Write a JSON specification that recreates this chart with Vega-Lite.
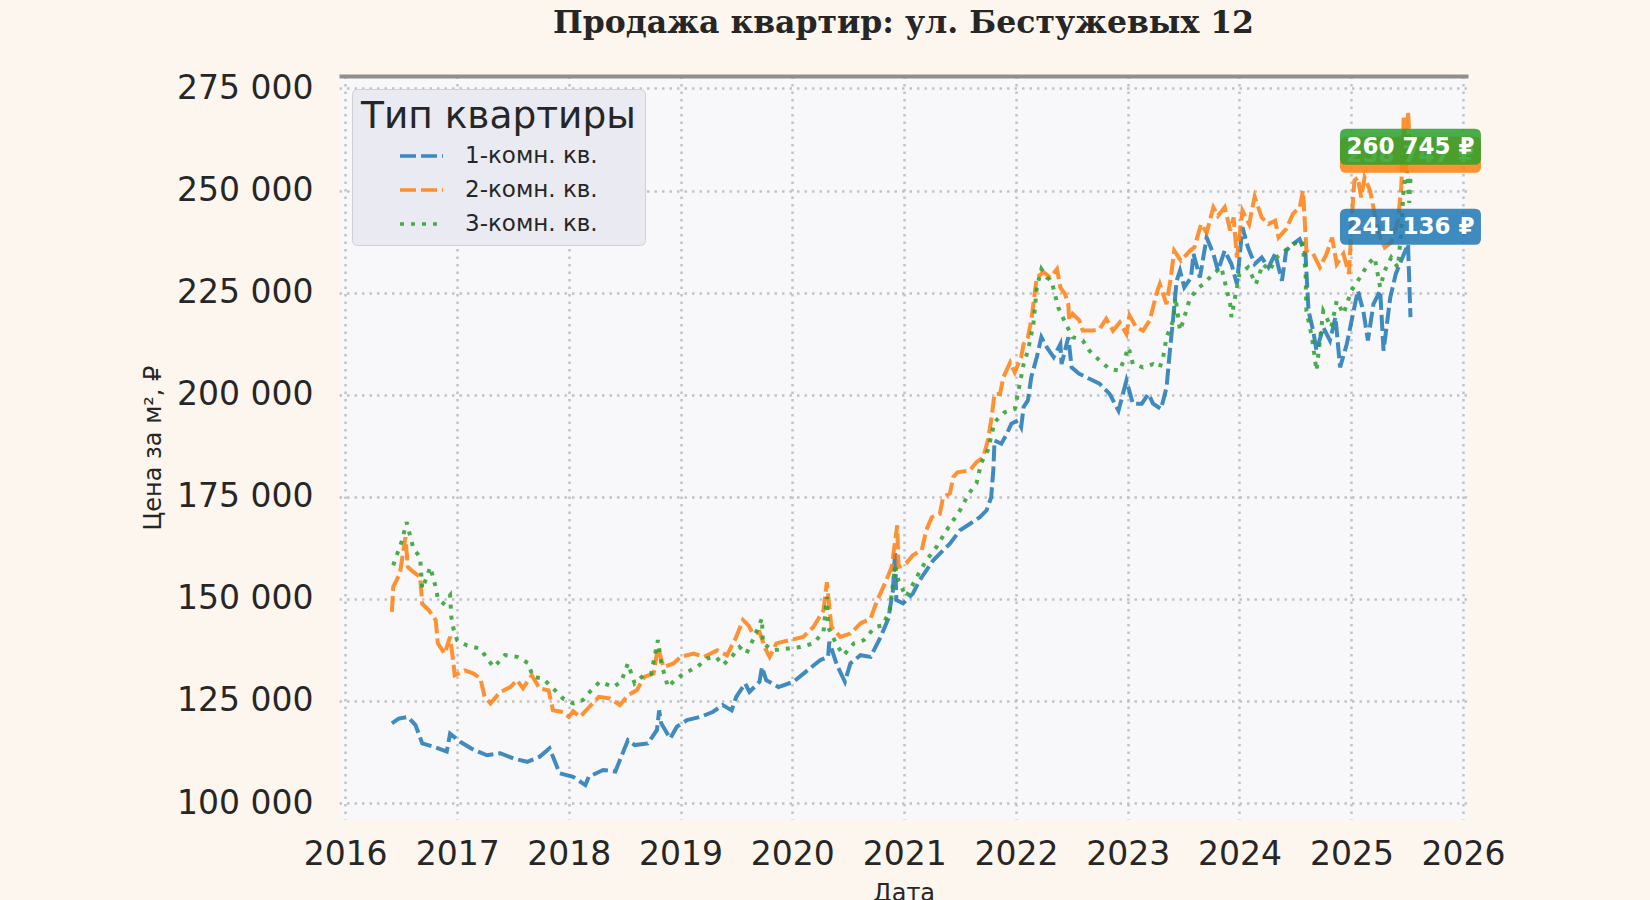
{
  "$schema": "https://vega.github.io/schema/vega-lite/v6.json",
  "width": 1129,
  "height": 743,
  "autosize": {"type": "none"},
  "padding": {"left": 339, "top": 76, "right": 182, "bottom": 81},
  "background": "#fdf6ee",
  "title": {
    "text": "Продажа квартир: ул. Бестужевых 12",
    "font": "DejaVu Serif",
    "fontSize": 31.5,
    "fontWeight": "bold",
    "color": "#262626",
    "anchor": "middle",
    "baseline": "alphabetic",
    "offset": 8
  },
  "datasets": {
    "prices": [
      {"type": "1-комн. кв.", "date": "2016-06-02", "price": 119500},
      {"type": "1-комн. кв.", "date": "2016-06-24", "price": 120700},
      {"type": "1-комн. кв.", "date": "2016-07-24", "price": 121100},
      {"type": "1-комн. кв.", "date": "2016-08-18", "price": 119100},
      {"type": "1-комн. кв.", "date": "2016-09-09", "price": 114600},
      {"type": "1-комн. кв.", "date": "2016-10-16", "price": 113800},
      {"type": "1-комн. кв.", "date": "2016-11-28", "price": 112600},
      {"type": "1-комн. кв.", "date": "2016-12-09", "price": 117000},
      {"type": "1-комн. кв.", "date": "2017-01-11", "price": 115000},
      {"type": "1-комн. кв.", "date": "2017-02-24", "price": 113000},
      {"type": "1-комн. кв.", "date": "2017-04-09", "price": 111700},
      {"type": "1-комн. кв.", "date": "2017-05-22", "price": 112200},
      {"type": "1-комн. кв.", "date": "2017-07-05", "price": 110900},
      {"type": "1-комн. кв.", "date": "2017-08-18", "price": 110100},
      {"type": "1-комн. кв.", "date": "2017-09-27", "price": 111300},
      {"type": "1-комн. кв.", "date": "2017-10-30", "price": 113400},
      {"type": "1-комн. кв.", "date": "2017-12-02", "price": 107300},
      {"type": "1-комн. кв.", "date": "2018-01-15", "price": 106400},
      {"type": "1-комн. кв.", "date": "2018-02-24", "price": 104400},
      {"type": "1-комн. кв.", "date": "2018-03-07", "price": 106400},
      {"type": "1-комн. кв.", "date": "2018-04-23", "price": 108100},
      {"type": "1-комн. кв.", "date": "2018-06-02", "price": 107700},
      {"type": "1-комн. кв.", "date": "2018-06-21", "price": 111300},
      {"type": "1-комн. кв.", "date": "2018-07-13", "price": 115400},
      {"type": "1-комн. кв.", "date": "2018-08-04", "price": 114200},
      {"type": "1-комн. кв.", "date": "2018-09-16", "price": 114600},
      {"type": "1-комн. кв.", "date": "2018-10-16", "price": 117900},
      {"type": "1-комн. кв.", "date": "2018-10-23", "price": 122700},
      {"type": "1-комн. кв.", "date": "2018-10-30", "price": 119500},
      {"type": "1-комн. кв.", "date": "2018-11-28", "price": 115800},
      {"type": "1-комн. кв.", "date": "2018-12-20", "price": 118700},
      {"type": "1-комн. кв.", "date": "2019-01-22", "price": 120300},
      {"type": "1-комн. кв.", "date": "2019-03-07", "price": 121100},
      {"type": "1-комн. кв.", "date": "2019-04-16", "price": 122300},
      {"type": "1-комн. кв.", "date": "2019-05-19", "price": 124000},
      {"type": "1-комн. кв.", "date": "2019-06-17", "price": 122700},
      {"type": "1-комн. кв.", "date": "2019-07-02", "price": 126000},
      {"type": "1-комн. кв.", "date": "2019-07-31", "price": 129300},
      {"type": "1-комн. кв.", "date": "2019-08-14", "price": 127200},
      {"type": "1-комн. кв.", "date": "2019-09-16", "price": 129700},
      {"type": "1-комн. кв.", "date": "2019-09-24", "price": 133300},
      {"type": "1-комн. кв.", "date": "2019-10-08", "price": 130100},
      {"type": "1-комн. кв.", "date": "2019-11-17", "price": 128400},
      {"type": "1-комн. кв.", "date": "2020-01-05", "price": 129700},
      {"type": "1-комн. кв.", "date": "2020-02-20", "price": 132500},
      {"type": "1-комн. кв.", "date": "2020-04-01", "price": 135000},
      {"type": "1-комн. кв.", "date": "2020-04-27", "price": 135800},
      {"type": "1-комн. кв.", "date": "2020-05-01", "price": 139500},
      {"type": "1-комн. кв.", "date": "2020-05-26", "price": 133800},
      {"type": "1-комн. кв.", "date": "2020-06-21", "price": 129700},
      {"type": "1-комн. кв.", "date": "2020-07-09", "price": 134200},
      {"type": "1-комн. кв.", "date": "2020-08-11", "price": 136200},
      {"type": "1-комн. кв.", "date": "2020-09-13", "price": 135800},
      {"type": "1-комн. кв.", "date": "2020-10-16", "price": 140700},
      {"type": "1-комн. кв.", "date": "2020-11-10", "price": 145200},
      {"type": "1-комн. кв.", "date": "2020-11-25", "price": 152100},
      {"type": "1-комн. кв.", "date": "2020-12-02", "price": 161500},
      {"type": "1-комн. кв.", "date": "2020-12-06", "price": 149700},
      {"type": "1-комн. кв.", "date": "2020-12-28", "price": 148900},
      {"type": "1-комн. кв.", "date": "2021-01-29", "price": 151300},
      {"type": "1-комн. кв.", "date": "2021-02-20", "price": 154500},
      {"type": "1-комн. кв.", "date": "2021-04-05", "price": 159400},
      {"type": "1-комн. кв.", "date": "2021-05-08", "price": 161900},
      {"type": "1-комн. кв.", "date": "2021-05-30", "price": 163500},
      {"type": "1-комн. кв.", "date": "2021-07-02", "price": 166800},
      {"type": "1-комн. кв.", "date": "2021-08-04", "price": 168400},
      {"type": "1-комн. кв.", "date": "2021-09-05", "price": 170000},
      {"type": "1-комн. кв.", "date": "2021-09-27", "price": 171700},
      {"type": "1-комн. кв.", "date": "2021-10-12", "price": 174900},
      {"type": "1-комн. кв.", "date": "2021-10-19", "price": 181500},
      {"type": "1-комн. кв.", "date": "2021-10-23", "price": 188800},
      {"type": "1-комн. кв.", "date": "2021-11-14", "price": 188000},
      {"type": "1-комн. кв.", "date": "2021-12-02", "price": 190400},
      {"type": "1-комн. кв.", "date": "2021-12-17", "price": 192900},
      {"type": "1-комн. кв.", "date": "2022-01-07", "price": 193700},
      {"type": "1-комн. кв.", "date": "2022-01-18", "price": 192100},
      {"type": "1-комн. кв.", "date": "2022-01-26", "price": 197000},
      {"type": "1-комн. кв.", "date": "2022-02-09", "price": 198600},
      {"type": "1-комн. кв.", "date": "2022-02-20", "price": 204300},
      {"type": "1-комн. кв.", "date": "2022-03-10", "price": 209200},
      {"type": "1-комн. кв.", "date": "2022-03-25", "price": 214100},
      {"type": "1-комн. кв.", "date": "2022-04-12", "price": 211600},
      {"type": "1-комн. кв.", "date": "2022-05-04", "price": 209200},
      {"type": "1-комн. кв.", "date": "2022-05-26", "price": 212400},
      {"type": "1-комн. кв.", "date": "2022-05-30", "price": 207500},
      {"type": "1-комн. кв.", "date": "2022-06-21", "price": 214100},
      {"type": "1-комн. кв.", "date": "2022-07-02", "price": 206700},
      {"type": "1-комн. кв.", "date": "2022-07-27", "price": 205100},
      {"type": "1-комн. кв.", "date": "2022-08-29", "price": 203900},
      {"type": "1-комн. кв.", "date": "2022-10-01", "price": 202700},
      {"type": "1-комн. кв.", "date": "2022-11-03", "price": 200200},
      {"type": "1-комн. кв.", "date": "2022-12-02", "price": 196100},
      {"type": "1-комн. кв.", "date": "2022-12-28", "price": 203500},
      {"type": "1-комн. кв.", "date": "2023-01-18", "price": 197800},
      {"type": "1-комн. кв.", "date": "2023-02-16", "price": 197800},
      {"type": "1-комн. кв.", "date": "2023-03-10", "price": 200200},
      {"type": "1-комн. кв.", "date": "2023-03-25", "price": 197800},
      {"type": "1-комн. кв.", "date": "2023-04-20", "price": 196500},
      {"type": "1-комн. кв.", "date": "2023-05-08", "price": 201800},
      {"type": "1-комн. кв.", "date": "2023-05-19", "price": 210800},
      {"type": "1-комн. кв.", "date": "2023-05-30", "price": 219000},
      {"type": "1-комн. кв.", "date": "2023-06-10", "price": 227900},
      {"type": "1-комн. кв.", "date": "2023-06-21", "price": 230400},
      {"type": "1-комн. кв.", "date": "2023-07-05", "price": 226300},
      {"type": "1-комн. кв.", "date": "2023-07-27", "price": 228700},
      {"type": "1-комн. кв.", "date": "2023-08-04", "price": 234500},
      {"type": "1-комн. кв.", "date": "2023-08-25", "price": 228700},
      {"type": "1-комн. кв.", "date": "2023-09-16", "price": 238500},
      {"type": "1-комн. кв.", "date": "2023-10-08", "price": 234500},
      {"type": "1-комн. кв.", "date": "2023-10-23", "price": 230400},
      {"type": "1-комн. кв.", "date": "2023-11-14", "price": 235300},
      {"type": "1-комн. кв.", "date": "2023-12-06", "price": 232000},
      {"type": "1-комн. кв.", "date": "2023-12-24", "price": 227100},
      {"type": "1-комн. кв.", "date": "2024-01-11", "price": 241000},
      {"type": "1-комн. кв.", "date": "2024-01-29", "price": 236100},
      {"type": "1-комн. кв.", "date": "2024-02-20", "price": 232000},
      {"type": "1-комн. кв.", "date": "2024-03-14", "price": 233600},
      {"type": "1-комн. кв.", "date": "2024-04-05", "price": 231200},
      {"type": "1-комн. кв.", "date": "2024-04-27", "price": 234500},
      {"type": "1-комн. кв.", "date": "2024-05-19", "price": 227900},
      {"type": "1-комн. кв.", "date": "2024-06-02", "price": 235300},
      {"type": "1-комн. кв.", "date": "2024-06-24", "price": 236900},
      {"type": "1-комн. кв.", "date": "2024-07-16", "price": 238100},
      {"type": "1-комн. кв.", "date": "2024-08-04", "price": 234500},
      {"type": "1-комн. кв.", "date": "2024-08-14", "price": 220500},
      {"type": "1-комн. кв.", "date": "2024-08-29", "price": 215700},
      {"type": "1-комн. кв.", "date": "2024-09-09", "price": 210800},
      {"type": "1-комн. кв.", "date": "2024-10-01", "price": 216500},
      {"type": "1-комн. кв.", "date": "2024-10-23", "price": 213300},
      {"type": "1-комн. кв.", "date": "2024-11-10", "price": 219000},
      {"type": "1-комн. кв.", "date": "2024-11-25", "price": 206700},
      {"type": "1-комн. кв.", "date": "2024-12-17", "price": 212400},
      {"type": "1-комн. кв.", "date": "2025-01-04", "price": 219000},
      {"type": "1-комн. кв.", "date": "2025-01-22", "price": 225500},
      {"type": "1-комн. кв.", "date": "2025-02-09", "price": 220500},
      {"type": "1-комн. кв.", "date": "2025-02-24", "price": 213300},
      {"type": "1-комн. кв.", "date": "2025-03-14", "price": 222200},
      {"type": "1-комн. кв.", "date": "2025-04-05", "price": 225500},
      {"type": "1-комн. кв.", "date": "2025-04-16", "price": 210800},
      {"type": "1-комн. кв.", "date": "2025-05-08", "price": 223800},
      {"type": "1-комн. кв.", "date": "2025-05-26", "price": 229600},
      {"type": "1-комн. кв.", "date": "2025-06-17", "price": 233600},
      {"type": "1-комн. кв.", "date": "2025-07-05", "price": 236900},
      {"type": "1-комн. кв.", "date": "2025-07-13", "price": 219000},

      {"type": "2-комн. кв.", "date": "2016-06-02", "price": 146800},
      {"type": "2-комн. кв.", "date": "2016-06-06", "price": 152900},
      {"type": "2-комн. кв.", "date": "2016-06-28", "price": 156200},
      {"type": "2-комн. кв.", "date": "2016-07-16", "price": 165100},
      {"type": "2-комн. кв.", "date": "2016-07-24", "price": 157800},
      {"type": "2-комн. кв.", "date": "2016-08-11", "price": 156600},
      {"type": "2-комн. кв.", "date": "2016-09-02", "price": 155400},
      {"type": "2-комн. кв.", "date": "2016-09-09", "price": 148800},
      {"type": "2-комн. кв.", "date": "2016-10-01", "price": 147200},
      {"type": "2-комн. кв.", "date": "2016-10-23", "price": 144800},
      {"type": "2-комн. кв.", "date": "2016-10-30", "price": 139100},
      {"type": "2-комн. кв.", "date": "2016-11-21", "price": 136600},
      {"type": "2-комн. кв.", "date": "2016-12-09", "price": 140700},
      {"type": "2-комн. кв.", "date": "2016-12-20", "price": 134200},
      {"type": "2-комн. кв.", "date": "2016-12-24", "price": 131300},
      {"type": "2-комн. кв.", "date": "2017-01-26", "price": 132500},
      {"type": "2-комн. кв.", "date": "2017-02-24", "price": 131700},
      {"type": "2-комн. кв.", "date": "2017-03-18", "price": 130500},
      {"type": "2-комн. кв.", "date": "2017-04-01", "price": 126000},
      {"type": "2-комн. кв.", "date": "2017-04-20", "price": 124400},
      {"type": "2-комн. кв.", "date": "2017-05-22", "price": 127200},
      {"type": "2-комн. кв.", "date": "2017-06-24", "price": 128400},
      {"type": "2-комн. кв.", "date": "2017-07-16", "price": 130100},
      {"type": "2-комн. кв.", "date": "2017-08-04", "price": 128100},
      {"type": "2-комн. кв.", "date": "2017-09-02", "price": 131300},
      {"type": "2-комн. кв.", "date": "2017-09-27", "price": 128100},
      {"type": "2-комн. кв.", "date": "2017-10-27", "price": 127600},
      {"type": "2-комн. кв.", "date": "2017-11-10", "price": 122700},
      {"type": "2-комн. кв.", "date": "2017-12-13", "price": 122300},
      {"type": "2-комн. кв.", "date": "2018-01-01", "price": 121100},
      {"type": "2-комн. кв.", "date": "2018-01-15", "price": 122500},
      {"type": "2-комн. кв.", "date": "2018-02-06", "price": 121100},
      {"type": "2-комн. кв.", "date": "2018-03-10", "price": 123600},
      {"type": "2-комн. кв.", "date": "2018-04-09", "price": 126000},
      {"type": "2-комн. кв.", "date": "2018-05-15", "price": 125600},
      {"type": "2-комн. кв.", "date": "2018-06-17", "price": 124000},
      {"type": "2-комн. кв.", "date": "2018-07-13", "price": 126400},
      {"type": "2-комн. кв.", "date": "2018-08-11", "price": 127600},
      {"type": "2-комн. кв.", "date": "2018-09-05", "price": 130900},
      {"type": "2-комн. кв.", "date": "2018-10-05", "price": 131700},
      {"type": "2-комн. кв.", "date": "2018-10-19", "price": 138200},
      {"type": "2-комн. кв.", "date": "2018-11-06", "price": 133300},
      {"type": "2-комн. кв.", "date": "2018-12-09", "price": 134200},
      {"type": "2-комн. кв.", "date": "2019-01-01", "price": 135800},
      {"type": "2-комн. кв.", "date": "2019-02-13", "price": 136600},
      {"type": "2-комн. кв.", "date": "2019-03-18", "price": 135800},
      {"type": "2-комн. кв.", "date": "2019-05-01", "price": 137400},
      {"type": "2-комн. кв.", "date": "2019-06-02", "price": 136200},
      {"type": "2-комн. кв.", "date": "2019-07-02", "price": 140700},
      {"type": "2-комн. кв.", "date": "2019-07-24", "price": 144800},
      {"type": "2-комн. кв.", "date": "2019-08-11", "price": 143500},
      {"type": "2-комн. кв.", "date": "2019-08-25", "price": 141500},
      {"type": "2-комн. кв.", "date": "2019-09-16", "price": 141900},
      {"type": "2-комн. кв.", "date": "2019-10-05", "price": 137800},
      {"type": "2-комн. кв.", "date": "2019-10-19", "price": 135800},
      {"type": "2-комн. кв.", "date": "2019-11-10", "price": 139100},
      {"type": "2-комн. кв.", "date": "2019-12-24", "price": 139900},
      {"type": "2-комн. кв.", "date": "2020-02-06", "price": 140700},
      {"type": "2-комн. кв.", "date": "2020-03-10", "price": 143100},
      {"type": "2-комн. кв.", "date": "2020-04-12", "price": 147200},
      {"type": "2-комн. кв.", "date": "2020-04-23", "price": 154100},
      {"type": "2-комн. кв.", "date": "2020-05-08", "price": 143100},
      {"type": "2-комн. кв.", "date": "2020-06-06", "price": 140700},
      {"type": "2-комн. кв.", "date": "2020-07-09", "price": 141500},
      {"type": "2-комн. кв.", "date": "2020-08-11", "price": 144000},
      {"type": "2-комн. кв.", "date": "2020-09-13", "price": 145200},
      {"type": "2-комн. кв.", "date": "2020-10-05", "price": 149700},
      {"type": "2-комн. кв.", "date": "2020-10-30", "price": 153800},
      {"type": "2-комн. кв.", "date": "2020-11-21", "price": 157800},
      {"type": "2-комн. кв.", "date": "2020-12-09", "price": 168000},
      {"type": "2-комн. кв.", "date": "2020-12-13", "price": 157800},
      {"type": "2-комн. кв.", "date": "2021-01-07", "price": 158700},
      {"type": "2-комн. кв.", "date": "2021-01-29", "price": 160700},
      {"type": "2-комн. кв.", "date": "2021-02-27", "price": 161900},
      {"type": "2-комн. кв.", "date": "2021-03-14", "price": 166800},
      {"type": "2-комн. кв.", "date": "2021-04-01", "price": 170000},
      {"type": "2-комн. кв.", "date": "2021-04-27", "price": 170800},
      {"type": "2-комн. кв.", "date": "2021-05-08", "price": 174900},
      {"type": "2-комн. кв.", "date": "2021-05-30", "price": 175800},
      {"type": "2-комн. кв.", "date": "2021-06-10", "price": 179800},
      {"type": "2-комн. кв.", "date": "2021-06-24", "price": 181000},
      {"type": "2-комн. кв.", "date": "2021-08-04", "price": 181500},
      {"type": "2-комн. кв.", "date": "2021-08-25", "price": 183500},
      {"type": "2-комн. кв.", "date": "2021-09-16", "price": 184700},
      {"type": "2-комн. кв.", "date": "2021-10-01", "price": 188800},
      {"type": "2-комн. кв.", "date": "2021-10-12", "price": 193700},
      {"type": "2-комн. кв.", "date": "2021-10-23", "price": 200200},
      {"type": "2-комн. кв.", "date": "2021-11-10", "price": 200200},
      {"type": "2-комн. кв.", "date": "2021-11-21", "price": 204300},
      {"type": "2-комн. кв.", "date": "2021-12-13", "price": 207900},
      {"type": "2-комн. кв.", "date": "2021-12-28", "price": 205500},
      {"type": "2-комн. кв.", "date": "2022-01-18", "price": 209200},
      {"type": "2-комн. кв.", "date": "2022-01-26", "price": 212400},
      {"type": "2-комн. кв.", "date": "2022-02-09", "price": 214100},
      {"type": "2-комн. кв.", "date": "2022-02-20", "price": 218200},
      {"type": "2-комн. кв.", "date": "2022-03-03", "price": 224700},
      {"type": "2-комн. кв.", "date": "2022-03-10", "price": 228700},
      {"type": "2-комн. кв.", "date": "2022-04-01", "price": 230000},
      {"type": "2-комн. кв.", "date": "2022-04-23", "price": 228700},
      {"type": "2-комн. кв.", "date": "2022-05-15", "price": 230800},
      {"type": "2-комн. кв.", "date": "2022-05-26", "price": 226300},
      {"type": "2-комн. кв.", "date": "2022-06-10", "price": 224700},
      {"type": "2-комн. кв.", "date": "2022-06-21", "price": 222200},
      {"type": "2-комн. кв.", "date": "2022-06-24", "price": 218200},
      {"type": "2-комн. кв.", "date": "2022-07-05", "price": 219800},
      {"type": "2-комн. кв.", "date": "2022-07-27", "price": 218200},
      {"type": "2-комн. кв.", "date": "2022-08-07", "price": 215700},
      {"type": "2-комн. кв.", "date": "2022-09-09", "price": 215700},
      {"type": "2-комн. кв.", "date": "2022-10-01", "price": 216100},
      {"type": "2-комн. кв.", "date": "2022-10-23", "price": 218600},
      {"type": "2-комн. кв.", "date": "2022-11-14", "price": 215700},
      {"type": "2-комн. кв.", "date": "2022-12-06", "price": 217700},
      {"type": "2-комн. кв.", "date": "2022-12-28", "price": 214900},
      {"type": "2-комн. кв.", "date": "2023-01-07", "price": 219400},
      {"type": "2-комн. кв.", "date": "2023-01-29", "price": 216500},
      {"type": "2-комн. кв.", "date": "2023-02-20", "price": 215700},
      {"type": "2-комн. кв.", "date": "2023-03-14", "price": 218200},
      {"type": "2-комн. кв.", "date": "2023-03-25", "price": 221400},
      {"type": "2-комн. кв.", "date": "2023-04-05", "price": 224700},
      {"type": "2-комн. кв.", "date": "2023-04-16", "price": 227100},
      {"type": "2-комн. кв.", "date": "2023-05-08", "price": 222200},
      {"type": "2-комн. кв.", "date": "2023-05-22", "price": 228700},
      {"type": "2-комн. кв.", "date": "2023-06-02", "price": 235300},
      {"type": "2-комн. кв.", "date": "2023-06-24", "price": 232800},
      {"type": "2-комн. кв.", "date": "2023-07-24", "price": 235300},
      {"type": "2-комн. кв.", "date": "2023-08-07", "price": 236100},
      {"type": "2-комн. кв.", "date": "2023-08-29", "price": 241800},
      {"type": "2-комн. кв.", "date": "2023-09-16", "price": 239700},
      {"type": "2-комн. кв.", "date": "2023-10-08", "price": 245900},
      {"type": "2-комн. кв.", "date": "2023-10-23", "price": 243800},
      {"type": "2-комн. кв.", "date": "2023-11-14", "price": 245900},
      {"type": "2-комн. кв.", "date": "2023-12-02", "price": 240200},
      {"type": "2-комн. кв.", "date": "2023-12-13", "price": 243400},
      {"type": "2-комн. кв.", "date": "2023-12-24", "price": 233600},
      {"type": "2-комн. кв.", "date": "2024-01-11", "price": 245100},
      {"type": "2-комн. кв.", "date": "2024-02-02", "price": 241800},
      {"type": "2-комн. кв.", "date": "2024-02-20", "price": 248500},
      {"type": "2-комн. кв.", "date": "2024-03-14", "price": 243400},
      {"type": "2-комн. кв.", "date": "2024-04-05", "price": 241800},
      {"type": "2-комн. кв.", "date": "2024-04-27", "price": 242600},
      {"type": "2-комн. кв.", "date": "2024-05-08", "price": 238500},
      {"type": "2-комн. кв.", "date": "2024-06-02", "price": 240600},
      {"type": "2-комн. кв.", "date": "2024-06-24", "price": 244300},
      {"type": "2-комн. кв.", "date": "2024-07-16", "price": 245900},
      {"type": "2-комн. кв.", "date": "2024-07-27", "price": 250000},
      {"type": "2-комн. кв.", "date": "2024-08-07", "price": 235300},
      {"type": "2-комн. кв.", "date": "2024-08-29", "price": 234500},
      {"type": "2-комн. кв.", "date": "2024-09-20", "price": 231200},
      {"type": "2-комн. кв.", "date": "2024-10-12", "price": 234500},
      {"type": "2-комн. кв.", "date": "2024-10-30", "price": 238500},
      {"type": "2-комн. кв.", "date": "2024-11-14", "price": 232000},
      {"type": "2-комн. кв.", "date": "2024-12-06", "price": 234500},
      {"type": "2-комн. кв.", "date": "2024-12-24", "price": 229600},
      {"type": "2-комн. кв.", "date": "2025-01-04", "price": 245100},
      {"type": "2-комн. кв.", "date": "2025-01-11", "price": 252500},
      {"type": "2-комн. кв.", "date": "2025-01-22", "price": 253200},
      {"type": "2-комн. кв.", "date": "2025-02-02", "price": 248300},
      {"type": "2-комн. кв.", "date": "2025-02-13", "price": 253200},
      {"type": "2-комн. кв.", "date": "2025-03-03", "price": 250000},
      {"type": "2-комн. кв.", "date": "2025-03-18", "price": 244300},
      {"type": "2-комн. кв.", "date": "2025-04-05", "price": 238500},
      {"type": "2-комн. кв.", "date": "2025-04-20", "price": 236100},
      {"type": "2-комн. кв.", "date": "2025-05-11", "price": 237300},
      {"type": "2-комн. кв.", "date": "2025-06-02", "price": 242600},
      {"type": "2-комн. кв.", "date": "2025-06-13", "price": 250800},
      {"type": "2-комн. кв.", "date": "2025-06-21", "price": 267900},
      {"type": "2-комн. кв.", "date": "2025-06-28", "price": 255000},
      {"type": "2-комн. кв.", "date": "2025-07-05", "price": 269500},
      {"type": "2-комн. кв.", "date": "2025-07-13", "price": 258700},

      {"type": "3-комн. кв.", "date": "2016-06-06", "price": 158200},
      {"type": "3-комн. кв.", "date": "2016-06-21", "price": 161400},
      {"type": "3-комн. кв.", "date": "2016-07-05", "price": 164300},
      {"type": "3-комн. кв.", "date": "2016-07-20", "price": 168800},
      {"type": "3-комн. кв.", "date": "2016-07-31", "price": 165600},
      {"type": "3-комн. кв.", "date": "2016-08-11", "price": 162300},
      {"type": "3-комн. кв.", "date": "2016-09-02", "price": 160200},
      {"type": "3-комн. кв.", "date": "2016-09-09", "price": 152500},
      {"type": "3-комн. кв.", "date": "2016-09-24", "price": 155400},
      {"type": "3-комн. кв.", "date": "2016-10-05", "price": 157800},
      {"type": "3-комн. кв.", "date": "2016-10-23", "price": 152900},
      {"type": "3-комн. кв.", "date": "2016-10-30", "price": 150100},
      {"type": "3-комн. кв.", "date": "2016-11-17", "price": 148900},
      {"type": "3-комн. кв.", "date": "2016-12-09", "price": 150900},
      {"type": "3-комн. кв.", "date": "2016-12-13", "price": 145600},
      {"type": "3-комн. кв.", "date": "2016-12-20", "price": 142700},
      {"type": "3-комн. кв.", "date": "2017-01-01", "price": 139900},
      {"type": "3-комн. кв.", "date": "2017-02-02", "price": 138600},
      {"type": "3-комн. кв.", "date": "2017-03-18", "price": 137800},
      {"type": "3-комн. кв.", "date": "2017-04-09", "price": 135400},
      {"type": "3-комн. кв.", "date": "2017-05-01", "price": 133300},
      {"type": "3-комн. кв.", "date": "2017-06-06", "price": 136200},
      {"type": "3-комн. кв.", "date": "2017-07-16", "price": 135800},
      {"type": "3-комн. кв.", "date": "2017-08-22", "price": 134200},
      {"type": "3-комн. кв.", "date": "2017-09-05", "price": 130900},
      {"type": "3-комн. кв.", "date": "2017-10-08", "price": 130500},
      {"type": "3-комн. кв.", "date": "2017-11-17", "price": 127600},
      {"type": "3-комн. кв.", "date": "2017-12-13", "price": 125600},
      {"type": "3-комн. кв.", "date": "2018-01-15", "price": 124400},
      {"type": "3-комн. кв.", "date": "2018-02-16", "price": 125200},
      {"type": "3-комн. кв.", "date": "2018-03-10", "price": 127200},
      {"type": "3-комн. кв.", "date": "2018-04-12", "price": 129700},
      {"type": "3-комн. кв.", "date": "2018-05-26", "price": 128400},
      {"type": "3-комн. кв.", "date": "2018-06-21", "price": 129700},
      {"type": "3-комн. кв.", "date": "2018-07-13", "price": 134200},
      {"type": "3-комн. кв.", "date": "2018-08-04", "price": 129300},
      {"type": "3-комн. кв.", "date": "2018-09-02", "price": 131300},
      {"type": "3-комн. кв.", "date": "2018-09-27", "price": 131700},
      {"type": "3-комн. кв.", "date": "2018-10-19", "price": 139900},
      {"type": "3-комн. кв.", "date": "2018-10-30", "price": 134200},
      {"type": "3-комн. кв.", "date": "2018-11-21", "price": 128400},
      {"type": "3-комн. кв.", "date": "2018-12-13", "price": 130100},
      {"type": "3-комн. кв.", "date": "2019-01-11", "price": 131700},
      {"type": "3-комн. кв.", "date": "2019-02-24", "price": 133300},
      {"type": "3-комн. кв.", "date": "2019-03-29", "price": 135400},
      {"type": "3-комн. кв.", "date": "2019-04-27", "price": 135800},
      {"type": "3-комн. кв.", "date": "2019-05-19", "price": 133800},
      {"type": "3-комн. кв.", "date": "2019-06-17", "price": 135800},
      {"type": "3-комн. кв.", "date": "2019-07-13", "price": 138200},
      {"type": "3-комн. кв.", "date": "2019-08-04", "price": 136600},
      {"type": "3-комн. кв.", "date": "2019-08-25", "price": 139900},
      {"type": "3-комн. кв.", "date": "2019-09-24", "price": 145200},
      {"type": "3-комн. кв.", "date": "2019-09-27", "price": 139100},
      {"type": "3-комн. кв.", "date": "2019-10-30", "price": 137400},
      {"type": "3-комн. кв.", "date": "2019-12-13", "price": 137800},
      {"type": "3-комн. кв.", "date": "2020-01-26", "price": 138200},
      {"type": "3-комн. кв.", "date": "2020-03-10", "price": 139100},
      {"type": "3-комн. кв.", "date": "2020-04-12", "price": 141900},
      {"type": "3-комн. кв.", "date": "2020-04-23", "price": 150500},
      {"type": "3-комн. кв.", "date": "2020-04-27", "price": 143100},
      {"type": "3-комн. кв.", "date": "2020-05-26", "price": 138600},
      {"type": "3-комн. кв.", "date": "2020-06-17", "price": 136200},
      {"type": "3-комн. кв.", "date": "2020-07-20", "price": 139100},
      {"type": "3-комн. кв.", "date": "2020-08-22", "price": 139900},
      {"type": "3-комн. кв.", "date": "2020-09-27", "price": 143100},
      {"type": "3-комн. кв.", "date": "2020-10-23", "price": 143500},
      {"type": "3-комн. кв.", "date": "2020-11-14", "price": 147200},
      {"type": "3-комн. кв.", "date": "2020-12-02", "price": 157800},
      {"type": "3-комн. кв.", "date": "2020-12-13", "price": 154500},
      {"type": "3-комн. кв.", "date": "2021-01-07", "price": 150500},
      {"type": "3-комн. кв.", "date": "2021-02-20", "price": 156600},
      {"type": "3-комн. кв.", "date": "2021-03-14", "price": 159400},
      {"type": "3-комн. кв.", "date": "2021-04-16", "price": 162700},
      {"type": "3-комн. кв.", "date": "2021-05-19", "price": 166800},
      {"type": "3-комн. кв.", "date": "2021-07-02", "price": 171700},
      {"type": "3-комн. кв.", "date": "2021-07-31", "price": 175800},
      {"type": "3-комн. кв.", "date": "2021-08-25", "price": 178300},
      {"type": "3-комн. кв.", "date": "2021-09-09", "price": 183200},
      {"type": "3-комн. кв.", "date": "2021-10-01", "price": 186400},
      {"type": "3-комн. кв.", "date": "2021-10-23", "price": 193300},
      {"type": "3-комн. кв.", "date": "2021-11-25", "price": 195700},
      {"type": "3-комн. кв.", "date": "2021-12-28", "price": 196500},
      {"type": "3-комн. кв.", "date": "2022-01-07", "price": 200200},
      {"type": "3-комн. кв.", "date": "2022-01-26", "price": 207500},
      {"type": "3-комн. кв.", "date": "2022-02-09", "price": 210800},
      {"type": "3-комн. кв.", "date": "2022-02-27", "price": 217300},
      {"type": "3-комн. кв.", "date": "2022-03-10", "price": 226300},
      {"type": "3-комн. кв.", "date": "2022-03-25", "price": 230800},
      {"type": "3-комн. кв.", "date": "2022-04-12", "price": 228700},
      {"type": "3-комн. кв.", "date": "2022-04-27", "price": 227900},
      {"type": "3-комн. кв.", "date": "2022-05-19", "price": 221400},
      {"type": "3-комн. кв.", "date": "2022-06-13", "price": 217300},
      {"type": "3-комн. кв.", "date": "2022-07-05", "price": 214100},
      {"type": "3-комн. кв.", "date": "2022-08-07", "price": 213300},
      {"type": "3-комн. кв.", "date": "2022-08-29", "price": 210800},
      {"type": "3-комн. кв.", "date": "2022-10-01", "price": 208400},
      {"type": "3-комн. кв.", "date": "2022-11-03", "price": 206300},
      {"type": "3-комн. кв.", "date": "2022-12-06", "price": 205900},
      {"type": "3-комн. кв.", "date": "2023-01-04", "price": 211600},
      {"type": "3-комн. кв.", "date": "2023-01-18", "price": 207500},
      {"type": "3-комн. кв.", "date": "2023-02-20", "price": 206700},
      {"type": "3-комн. кв.", "date": "2023-03-25", "price": 207500},
      {"type": "3-комн. кв.", "date": "2023-04-16", "price": 206700},
      {"type": "3-комн. кв.", "date": "2023-04-27", "price": 209200},
      {"type": "3-комн. кв.", "date": "2023-05-08", "price": 214100},
      {"type": "3-комн. кв.", "date": "2023-05-30", "price": 218200},
      {"type": "3-комн. кв.", "date": "2023-06-06", "price": 223800},
      {"type": "3-комн. кв.", "date": "2023-06-21", "price": 215700},
      {"type": "3-комн. кв.", "date": "2023-07-02", "price": 218200},
      {"type": "3-комн. кв.", "date": "2023-07-24", "price": 223800},
      {"type": "3-комн. кв.", "date": "2023-08-04", "price": 224700},
      {"type": "3-комн. кв.", "date": "2023-08-22", "price": 226300},
      {"type": "3-комн. кв.", "date": "2023-09-05", "price": 227100},
      {"type": "3-комн. кв.", "date": "2023-10-08", "price": 229600},
      {"type": "3-комн. кв.", "date": "2023-11-03", "price": 231200},
      {"type": "3-комн. кв.", "date": "2023-12-02", "price": 222200},
      {"type": "3-комн. кв.", "date": "2023-12-06", "price": 219000},
      {"type": "3-комн. кв.", "date": "2024-01-01", "price": 229600},
      {"type": "3-комн. кв.", "date": "2024-01-29", "price": 231200},
      {"type": "3-комн. кв.", "date": "2024-02-24", "price": 227100},
      {"type": "3-комн. кв.", "date": "2024-03-18", "price": 232000},
      {"type": "3-комн. кв.", "date": "2024-04-09", "price": 230400},
      {"type": "3-комн. кв.", "date": "2024-05-01", "price": 233600},
      {"type": "3-комн. кв.", "date": "2024-05-30", "price": 235300},
      {"type": "3-комн. кв.", "date": "2024-06-24", "price": 236900},
      {"type": "3-комн. кв.", "date": "2024-07-24", "price": 237700},
      {"type": "3-комн. кв.", "date": "2024-08-04", "price": 230400},
      {"type": "3-комн. кв.", "date": "2024-08-07", "price": 220500},
      {"type": "3-комн. кв.", "date": "2024-08-25", "price": 214100},
      {"type": "3-комн. кв.", "date": "2024-09-09", "price": 205900},
      {"type": "3-комн. кв.", "date": "2024-10-01", "price": 220500},
      {"type": "3-комн. кв.", "date": "2024-10-27", "price": 216500},
      {"type": "3-комн. кв.", "date": "2024-11-14", "price": 223000},
      {"type": "3-комн. кв.", "date": "2024-12-06", "price": 219800},
      {"type": "3-комн. кв.", "date": "2025-01-01", "price": 225500},
      {"type": "3-комн. кв.", "date": "2025-01-29", "price": 228700},
      {"type": "3-комн. кв.", "date": "2025-02-24", "price": 232000},
      {"type": "3-комн. кв.", "date": "2025-03-18", "price": 233600},
      {"type": "3-комн. кв.", "date": "2025-04-05", "price": 226300},
      {"type": "3-комн. кв.", "date": "2025-04-20", "price": 230400},
      {"type": "3-комн. кв.", "date": "2025-05-11", "price": 233600},
      {"type": "3-комн. кв.", "date": "2025-06-02", "price": 231200},
      {"type": "3-комн. кв.", "date": "2025-06-13", "price": 240200},
      {"type": "3-комн. кв.", "date": "2025-06-21", "price": 250800},
      {"type": "3-комн. кв.", "date": "2025-07-02", "price": 254900},
      {"type": "3-комн. кв.", "date": "2025-07-09", "price": 247000},
      {"type": "3-комн. кв.", "date": "2025-07-13", "price": 253000}
    ],
    "labels": [
      {"type": "1-комн. кв.", "date": "2025-07-13", "price": 241136, "label": "241 136 ₽"},
      {"type": "2-комн. кв.", "date": "2025-07-13", "price": 258747, "label": "258 747 ₽"},
      {"type": "3-комн. кв.", "date": "2025-07-13", "price": 260745, "label": "260 745 ₽"}
    ]
  },
  "resolve": {"axis": {"x": "independent", "y": "independent"}},
  "layer": [
    {
      "data": {"name": "prices"},
      "mark": {"type": "line", "strokeWidth": 4, "opacity": 0.85, "strokeCap": "butt"},
      "encoding": {
        "x": {
          "field": "date",
          "type": "temporal",
          "scale": {
            "type": "utc",
            "domain": [
              {"year": 2015, "month": 12, "date": 12, "utc": true},
              {"year": 2026, "month": 1, "date": 17, "utc": true}
            ]
          },
          "axis": {
            "values": [
              {"year": 2016, "utc": true}, {"year": 2017, "utc": true}, {"year": 2018, "utc": true},
              {"year": 2019, "utc": true}, {"year": 2020, "utc": true}, {"year": 2021, "utc": true},
              {"year": 2022, "utc": true}, {"year": 2023, "utc": true}, {"year": 2024, "utc": true},
              {"year": 2025, "utc": true}, {"year": 2026, "utc": true}
            ],
            "format": "%Y",
            "labelFont": "DejaVu Sans",
            "labelFontSize": 33,
            "labelColor": "#262626",
            "labelPadding": 19,
            "labelFlush": false,
            "labelOverlap": false,
            "ticks": false,
            "domain": false,
            "grid": true,
            "gridColor": "#c2c2c2",
            "gridDash": [2.5, 5],
            "gridWidth": 2.5,
            "title": "Дата",
            "titleFont": "DejaVu Sans",
            "titleFontSize": 24,
            "titleFontWeight": "normal",
            "titleColor": "#262626",
            "titlePadding": 10
          }
        },
        "y": {
          "field": "price",
          "type": "quantitative",
          "scale": {"domain": [96090, 278060], "nice": false, "zero": false},
          "axis": {
            "values": [100000, 125000, 150000, 175000, 200000, 225000, 250000, 275000],
            "labelExpr": "replace(format(datum.value, ',d'), ',', ' ')",
            "labelFont": "DejaVu Sans",
            "labelFontSize": 33,
            "labelColor": "#262626",
            "labelPadding": 26,
            "labelOverlap": false,
            "labelFlush": false,
            "ticks": false,
            "domain": false,
            "grid": true,
            "gridColor": "#c2c2c2",
            "gridDash": [2.5, 5],
            "gridWidth": 2.5,
            "title": "Цена за м², ₽",
            "titleFont": "DejaVu Sans",
            "titleFontSize": 24,
            "titleFontWeight": "normal",
            "titleColor": "#262626",
            "titlePadding": 11
          }
        },
        "color": {
          "field": "type",
          "type": "nominal",
          "scale": {
            "domain": ["1-комн. кв.", "2-комн. кв.", "3-комн. кв."],
            "range": ["#1f77b4", "#ff7f0e", "#2ca02c"]
          },
          "legend": {
            "title": "Тип квартиры",
            "orient": "top-left",
            "offset": 13,
            "fillColor": "#eaeaf2",
            "strokeColor": "#cfcfd6",
            "cornerRadius": 5,
            "padding": 9,
            "titleFont": "DejaVu Sans",
            "titleFontSize": 37.5,
            "titleFontWeight": "normal",
            "titleColor": "#262626",
            "titlePadding": 9,
            "titleLimit": 500,
            "labelFont": "DejaVu Sans",
            "labelFontSize": 23,
            "labelColor": "#262626",
            "labelLimit": 400,
            "symbolType": "M-4.3,0H4.3",
            "symbolSize": 100,
            "symbolStrokeWidth": 3.5,
            "symbolOffset": 49,
            "labelOffset": 32,
            "rowPadding": 10
          }
        },
        "strokeDash": {
          "field": "type",
          "type": "nominal",
          "scale": {
            "domain": ["1-комн. кв.", "2-комн. кв.", "3-комн. кв."],
            "range": [[16, 5], [16, 5], [4, 7]]
          },
          "legend": {
            "title": "Тип квартиры",
            "orient": "top-left",
            "offset": 13,
            "fillColor": "#eaeaf2",
            "strokeColor": "#cfcfd6",
            "cornerRadius": 5,
            "padding": 9,
            "titleFont": "DejaVu Sans",
            "titleFontSize": 37.5,
            "titleFontWeight": "normal",
            "titleColor": "#262626",
            "titlePadding": 9,
            "titleLimit": 500,
            "labelFont": "DejaVu Sans",
            "labelFontSize": 23,
            "labelColor": "#262626",
            "labelLimit": 400,
            "symbolType": "M-4.3,0H4.3",
            "symbolSize": 100,
            "symbolStrokeWidth": 3.5,
            "symbolOffset": 49,
            "labelOffset": 32,
            "rowPadding": 10
          }
        }
      }
    },
    {
      "data": {"name": "labels"},
      "transform": [{"filter": "datum.type !== '3-комн. кв.'"}],
      "mark": {
        "type": "point",
        "shape": "M-1.29,-0.36H1.29Q1.41,-0.36 1.41,-0.24V0.24Q1.41,0.36 1.29,0.36H-1.29Q-1.41,0.36 -1.41,0.24V-0.24Q-1.41,-0.36 -1.29,-0.36Z",
        "size": 10000,
        "filled": true,
        "opacity": 0.85,
        "strokeWidth": 0
      },
      "encoding": {
        "x": {
          "field": "date",
          "type": "temporal",
          "scale": {"type": "utc"},
          "axis": {
            "orient": "top",
            "labels": false,
            "ticks": false,
            "grid": false,
            "domain": true,
            "domainColor": "#8f8f8f",
            "domainWidth": 4,
            "title": null
          }
        },
        "y": {"field": "price", "type": "quantitative", "axis": null},
        "color": {"field": "type", "type": "nominal", "legend": null}
      }
    },
    {
      "data": {"name": "labels"},
      "transform": [{"filter": "datum.type !== '3-комн. кв.'"}],
      "mark": {
        "type": "text",
        "font": "DejaVu Sans",
        "fontSize": 23,
        "fontWeight": "bold",
        "color": "white",
        "align": "center",
        "baseline": "middle"
      },
      "encoding": {
        "x": {"field": "date", "type": "temporal", "scale": {"type": "utc"}, "axis": null},
        "y": {"field": "price", "type": "quantitative", "axis": null},
        "text": {"field": "label", "type": "nominal"}
      }
    },
    {
      "data": {"name": "labels"},
      "transform": [{"filter": "datum.type === '3-комн. кв.'"}],
      "mark": {
        "type": "point",
        "shape": "M-1.29,-0.36H1.29Q1.41,-0.36 1.41,-0.24V0.24Q1.41,0.36 1.29,0.36H-1.29Q-1.41,0.36 -1.41,0.24V-0.24Q-1.41,-0.36 -1.29,-0.36Z",
        "size": 10000,
        "filled": true,
        "opacity": 0.85,
        "strokeWidth": 0
      },
      "encoding": {
        "x": {"field": "date", "type": "temporal", "scale": {"type": "utc"}, "axis": null},
        "y": {"field": "price", "type": "quantitative", "axis": null},
        "color": {"field": "type", "type": "nominal", "legend": null}
      }
    },
    {
      "data": {"name": "labels"},
      "transform": [{"filter": "datum.type === '3-комн. кв.'"}],
      "mark": {
        "type": "text",
        "font": "DejaVu Sans",
        "fontSize": 23,
        "fontWeight": "bold",
        "color": "white",
        "align": "center",
        "baseline": "middle"
      },
      "encoding": {
        "x": {"field": "date", "type": "temporal", "scale": {"type": "utc"}, "axis": null},
        "y": {"field": "price", "type": "quantitative", "axis": null},
        "text": {"field": "label", "type": "nominal"}
      }
    }
  ],
  "config": {
    "view": {"fill": "#f8f8fa", "stroke": null}
  }
}
